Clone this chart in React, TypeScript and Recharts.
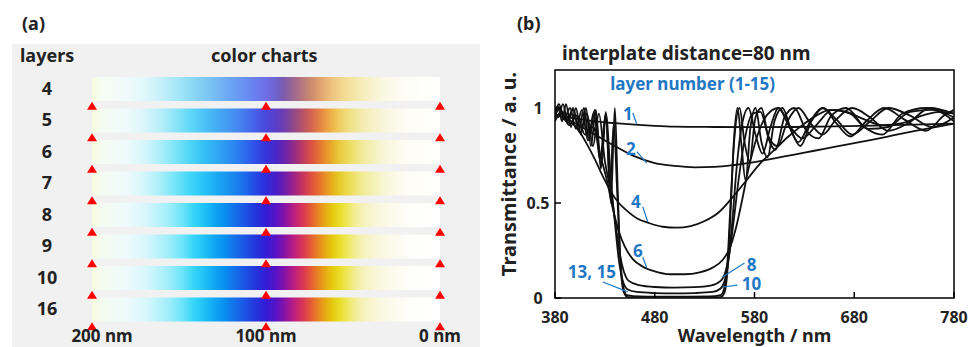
import React from 'react';
import {
  BarChart, Bar, Cell, XAxis, YAxis, ReferenceDot,
  LineChart, Line, ReferenceArea, ReferenceLine,
} from 'recharts';

// ---- panel (a): colour charts ----
const layers = ['4', '5', '6', '7', '8', '9', '10', '16'];
const stripSpan = 200; // nm, strips run 200 nm -> 0 nm
const thicknessTicks = [200, 100, 0];

// ---- panel (b): transmittance spectra, [wavelength nm, T] ----
const layer1: [number, number][] = [
  [380, 0.96], [400, 0.945], [420, 0.93], [440, 0.92], [460, 0.912], [480, 0.906], [500, 0.902],
  [540, 0.9], [580, 0.899], [620, 0.9], [660, 0.903], [700, 0.907], [740, 0.912], [780, 0.918],
];
const layer2: [number, number][] = [
  [380, 0.97], [400, 0.92], [420, 0.86], [440, 0.8], [460, 0.745], [480, 0.71], [500, 0.695],
  [520, 0.688], [540, 0.69], [560, 0.7], [580, 0.715], [600, 0.735], [620, 0.755], [640, 0.775],
  [660, 0.795], [680, 0.815], [700, 0.835], [720, 0.857], [740, 0.878], [760, 0.898], [780, 0.918],
];
const layer4: [number, number][] = [
  [380, 0.95], [388, 0.97], [396, 0.93], [404, 0.88], [412, 0.81], [420, 0.73], [428, 0.64],
  [436, 0.56], [444, 0.5], [452, 0.46], [462, 0.42], [474, 0.395], [488, 0.375], [502, 0.37],
  [516, 0.378], [530, 0.405], [544, 0.45], [558, 0.53], [572, 0.62], [586, 0.71], [600, 0.78],
  [614, 0.85], [628, 0.91], [642, 0.96], [656, 0.99], [672, 0.98], [690, 0.94], [708, 0.91],
  [728, 0.92], [748, 0.96], [766, 0.98], [780, 0.97],
];
const layer6: [number, number][] = [
  [380, 0.93], [386, 0.98], [394, 0.91], [402, 0.96], [410, 0.86], [418, 0.9], [426, 0.74],
  [432, 0.62], [438, 0.47], [444, 0.35], [450, 0.27], [458, 0.205], [468, 0.165], [480, 0.14],
  [495, 0.125], [510, 0.125], [525, 0.135], [538, 0.16], [548, 0.2], [555, 0.26], [561, 0.36],
  [567, 0.5], [574, 0.68], [582, 0.84], [592, 0.96], [604, 1.0], [616, 0.9], [628, 0.84],
  [642, 0.91], [658, 0.99], [676, 0.97], [694, 0.89], [714, 0.9], [736, 0.98], [758, 0.99], [780, 0.93],
];
const layer8: [number, number][] = [
  [380, 0.96], [385, 1.0], [391, 0.93], [398, 0.99], [405, 0.87], [412, 0.97], [418, 0.8],
  [424, 0.97], [430, 0.72], [436, 0.56], [441, 0.38], [445, 0.23], [449, 0.14], [454, 0.09],
  [464, 0.068], [480, 0.058], [500, 0.055], [520, 0.057], [536, 0.065], [546, 0.09], [551, 0.14],
  [555, 0.24], [559, 0.4], [564, 0.62], [570, 0.83], [578, 0.97], [586, 0.98], [594, 0.85],
  [603, 0.8], [613, 0.93], [624, 1.0], [636, 0.92], [648, 0.86], [662, 0.94], [678, 1.0],
  [696, 0.95], [714, 0.88], [734, 0.92], [756, 1.0], [780, 0.97],
];
const layer10: [number, number][] = [
  [380, 0.98], [384, 1.02], [389, 0.94], [395, 1.0], [401, 0.89], [407, 0.99], [413, 0.83],
  [419, 0.98], [425, 0.73], [431, 0.97], [436, 0.62], [440, 0.4], [444, 0.2], [448, 0.09],
  [453, 0.045], [462, 0.032], [480, 0.026], [500, 0.024], [520, 0.026], [538, 0.032], [546, 0.05],
  [550, 0.09], [554, 0.2], [558, 0.42], [562, 0.68], [567, 0.9], [574, 1.0], [581, 0.86],
  [588, 0.76], [596, 0.9], [604, 1.0], [614, 0.91], [624, 0.82], [636, 0.93], [648, 1.0],
  [662, 0.94], [678, 0.86], [696, 0.93], [714, 1.0], [736, 0.96], [758, 0.9], [780, 0.95],
];
const layer13: [number, number][] = [
  [380, 1.0], [383, 0.95], [388, 1.02], [393, 0.92], [398, 1.0], [404, 0.88], [409, 1.0],
  [414, 0.83], [420, 0.99], [426, 0.7], [431, 0.98], [435, 0.58], [439, 0.92], [442, 0.6],
  [445, 0.25], [448, 0.07], [452, 0.015], [465, 0.008], [500, 0.007], [535, 0.008], [546, 0.015],
  [550, 0.06], [553, 0.2], [556, 0.5], [560, 0.85], [565, 1.0], [570, 0.82], [575, 0.72],
  [581, 0.95], [587, 1.0], [594, 0.84], [601, 0.78], [610, 0.95], [620, 1.0], [632, 0.88],
  [644, 0.84], [657, 0.96], [672, 1.0], [690, 0.9], [708, 0.86], [728, 0.97], [752, 1.0], [780, 0.95],
];
const layer15: [number, number][] = [
  [380, 0.95], [383, 1.01], [387, 0.93], [391, 1.02], [396, 0.9], [401, 1.0], [406, 0.86],
  [411, 1.0], [416, 0.8], [421, 0.99], [426, 0.68], [431, 0.96], [436, 0.5], [440, 1.0],
  [443, 0.55], [446, 0.15], [449, 0.03], [453, 0.005], [470, 0.002], [500, 0.002], [530, 0.002],
  [546, 0.005], [550, 0.03], [553, 0.15], [556, 0.45], [559, 0.8], [563, 1.0], [567, 0.8],
  [571, 0.62], [576, 0.9], [581, 1.0], [587, 0.82], [593, 0.74], [600, 0.93], [608, 1.0],
  [617, 0.88], [626, 0.8], [637, 0.93], [649, 1.0], [662, 0.92], [676, 0.85], [692, 0.93],
  [710, 1.0], [730, 0.94], [752, 0.88], [770, 0.96], [780, 0.99],
];
const spectra = [layer1, layer2, layer4, layer6, layer8, layer10, layer13, layer15];
const wavelengthTicks = [380, 480, 580, 680, 780];
const transTicks = [0, 0.5, 1];

// curve labels: text anchor point + leader line, in data units
const curveLabels = [
  { text: '1', x: 453, y: 0.937, from: [458, 0.974], to: [462, 0.916] },
  { text: '2', x: 456, y: 0.753, from: [462, 0.77], to: [472, 0.71] },
  { text: '4', x: 461, y: 0.474, from: [468, 0.48], to: [473, 0.4] },
  { text: '6', x: 463, y: 0.216, from: [468, 0.216], to: [472, 0.158] },
  { text: '13, 15', x: 417, y: 0.105, from: [428, 0.084], to: [453, 0.032] },
  { text: '8', x: 577, y: 0.14, from: [570, 0.184], to: [548, 0.11] },
  { text: '10', x: 577, y: 0.04, from: [563, 0.068], to: [548, 0.058] },
];

// strip gradients (style): [offset %, colour]
const P4: [number, string][] = [
  [0, '#f8fce0'], [3, '#f6fcf2'], [10, '#f0fafc'], [15, '#e0f8fc'], [20, '#c4f0fa'], [24, '#a8e8f8'],
  [28, '#90dcf6'], [32, '#80ccf4'], [36, '#74b8f4'], [40, '#6aa4f4'], [44, '#6890f2'], [47, '#6a7ef0'],
  [50, '#6e6ee6'], [53, '#7062cc'], [55, '#7c5cae'], [57, '#926498'], [59, '#a86c88'], [61, '#bc7c7a'],
  [63, '#cc8c70'], [65, '#dc9e6e'], [67, '#e6b074'], [69, '#eec280'], [71, '#f2d28a'], [74, '#f4e29c'],
  [78, '#f6eebc'], [84, '#faf8e4'], [90, '#fdfdf6'], [100, '#ffffff'],
];
const P5: [number, string][] = [
  [0, '#f8fce0'], [3, '#f4fcf2'], [10, '#eefafc'], [15, '#daf6fc'], [20, '#b4eefa'], [24, '#8ce4f8'],
  [28, '#62d8f8'], [32, '#4cc4f6'], [36, '#44acf4'], [40, '#4494f2'], [44, '#4478ee'], [47, '#465ee8'],
  [50, '#4a48dc'], [53, '#5a3ec8'], [55, '#6c3eb0'], [57, '#844496'], [59, '#a04c7c'], [61, '#bc5664'],
  [63, '#d46452'], [65, '#e27c46'], [67, '#ea9842'], [69, '#eeb44a'], [71, '#f0cc60'], [74, '#f0e084'],
  [78, '#f4ecb2'], [84, '#f9f6dc'], [90, '#fdfcf4'], [100, '#ffffff'],
];
const P6: [number, string][] = [
  [0, '#f8fce0'], [3, '#f4fcf2'], [10, '#eefafc'], [15, '#d6f6fc'], [20, '#a8eefa'], [24, '#7ce4f8'],
  [28, '#50d6f8'], [32, '#36c2f6'], [36, '#30a8f4'], [40, '#2c8cf2'], [44, '#2c6cee'], [47, '#304ee6'],
  [50, '#3634dc'], [53, '#4a26c8'], [55, '#6424b0'], [57, '#822896'], [59, '#a4307a'], [61, '#c43e5c'],
  [63, '#da5244'], [65, '#e46e36'], [67, '#e88e2c'], [69, '#e8ae2c'], [71, '#e8c83c'], [74, '#ecdc60'],
  [78, '#f2eca0'], [84, '#f8f6d8'], [90, '#fdfcf4'], [100, '#ffffff'],
];
const P7: [number, string][] = [
  [0, '#f8fce0'], [3, '#f4fcf2'], [10, '#eefafc'], [15, '#d4f6fc'], [20, '#a4eefa'], [24, '#72e4f8'],
  [28, '#44d6f8'], [32, '#28c4f8'], [36, '#1ca8f4'], [40, '#1a8cf0'], [44, '#1c6aec'], [47, '#2448e4'],
  [50, '#2e2cdc'], [53, '#4a1cc8'], [55, '#6a1cb0'], [57, '#8c2096'], [59, '#ae2878'], [61, '#cc3858'],
  [63, '#de5040'], [65, '#e66c30'], [67, '#e88e24'], [69, '#e6ae1c'], [71, '#e6ca28'], [74, '#ecdc54'],
  [78, '#f2ec98'], [84, '#f8f6d6'], [90, '#fdfcf4'], [100, '#ffffff'],
];
const P16: [number, string][] = [
  [0, '#f8fce0'], [3, '#f4fbf0'], [10, '#eefafc'], [16, '#d4f6fc'], [22, '#a0eefa'], [26, '#6ce4fa'],
  [29, '#38d6f8'], [32, '#20c4f8'], [35, '#10a8f4'], [38, '#0890f0'], [41, '#1470ea'], [44, '#1c54e4'],
  [47, '#2436dc'], [50, '#321cd6'], [53, '#5a12c4'], [55, '#8012aa'], [57, '#a81890'], [59, '#c82670'],
  [61, '#dc3c50'], [63, '#e45e34'], [65, '#e88420'], [67, '#e8a814'], [69, '#e6c810'], [71, '#e8dc24'],
  [73, '#eee650'], [75, '#f2ec88'], [78, '#f6f2bc'], [82, '#f9f7dc'], [87, '#fcfbf0'], [92, '#fefefc'],
  [100, '#ffffff'],
];
const rowPalettes = [P4, P5, P6, P7, P16, P16, P16, P16];

const FONT = '"Noto Sans", "DejaVu Sans", sans-serif';
const BLUE = '#1f78c4';

const stripData = layers.map((layer) => ({ layer, span: stripSpan }));
const toPts = (arr: [number, number][]) => arr.map(([w, t]) => ({ w, t }));

const RowTick = (props: any) => {
  const { x, y, payload } = props;
  return (
    <text x={x - 45} y={y + 6} textAnchor="middle" fontFamily={FONT} fontWeight={700} fontSize={18} fill="#222">
      {payload.value}
    </text>
  );
};

const NmTick = (props: any) => {
  const { x, y, payload, index } = props;
  return (
    <text x={x + (index === 0 ? 10 : 0)} y={y + 17} textAnchor="middle" fontFamily={FONT} fontWeight={700} fontSize={17} fill="#222">
      {`${payload.value} nm`}
    </text>
  );
};

const Triangle = (props: any) => {
  const { cx, cy } = props;
  return <path d={`M${cx - 5},${cy + 21} L${cx + 5},${cy + 21} L${cx},${cy + 13} Z`} fill="#f00" />;
};

const WlTick = (props: any) => {
  const { x, y, payload } = props;
  return (
    <g>
      <line x1={x} x2={x} y1={y} y2={y - 6} stroke="#000" strokeWidth={1.5} />
      <text x={x} y={y + 25} textAnchor="middle" fontFamily={FONT} fontWeight={700} fontSize={16} fill="#222">
        {payload.value}
      </text>
    </g>
  );
};

const TTick = (props: any) => {
  const { x, y, payload } = props;
  return (
    <g>
      <line x1={x} x2={x + 6} y1={y} y2={y} stroke="#000" strokeWidth={1.5} />
      <text x={x - 17} y={y + 6} textAnchor="middle" fontFamily={FONT} fontWeight={700} fontSize={16} fill="#222">
        {payload.value}
      </text>
    </g>
  );
};

const label = (text: string, x: number, y: number, size = 18, color = '#222') => (
  <div style={{ position: 'absolute', left: x, top: y, fontFamily: FONT, fontWeight: 700, fontSize: size, color, whiteSpace: 'nowrap', lineHeight: 1 }}>
    {text}
  </div>
);

export default function App() {
  return (
    <div style={{ position: 'relative', width: 972, height: 347, background: '#fff', overflow: 'hidden' }}>
      <style>{'body{margin:0}'}</style>

      {label('(a)', 22, 14)}
      {label('(b)', 517, 14)}

      {/* panel (a) */}
      <div style={{ position: 'absolute', left: 12, top: 44, width: 468, height: 303, background: '#f1f1f1' }} />
      {label('layers', 20, 46)}
      {label('color charts', 211, 46)}
      <div style={{ position: 'absolute', left: 0, top: 0 }}>
        <BarChart width={480} height={347} layout="vertical" data={stripData}
          margin={{ top: 73, right: 40, bottom: 0, left: 12 }} barCategoryGap={0}>
          <defs>
            {rowPalettes.map((pal, i) => (
              <linearGradient key={i} id={`strip${i}`} x1="0" y1="0" x2="1" y2="0">
                {pal.map(([o, c]) => <stop key={o} offset={`${o}%`} stopColor={c} />)}
              </linearGradient>
            ))}
          </defs>
          <XAxis type="number" domain={[0, stripSpan]} reversed ticks={thicknessTicks} height={22}
            axisLine={false} tickLine={false} tickSize={0} tickMargin={0} tick={<NmTick />} interval={0} />
          <YAxis type="category" dataKey="layer" width={80} axisLine={false} tickLine={false}
            tickSize={0} tickMargin={0} tick={<RowTick />} interval={0} />
          <Bar dataKey="span" barSize={24} isAnimationActive={false}>
            {stripData.map((_, i) => <Cell key={i} fill={`url(#strip${i})`} />)}
          </Bar>
          {layers.flatMap((layer) => thicknessTicks.map((t) => (
            <ReferenceDot key={`${layer}-${t}`} x={t} y={layer} shape={<Triangle />} ifOverflow="visible" />
          )))}
        </BarChart>
      </div>

      {/* panel (b) */}
      {label('interplate distance=80 nm', 562, 44, 19)}
      <div style={{ position: 'absolute', left: 488, top: 40 }}>
        <LineChart width={484} height={307} margin={{ top: 30, right: 18, bottom: 19, left: 22 }}>
          <XAxis type="number" dataKey="w" domain={[380, 780]} ticks={wavelengthTicks} height={30}
            axisLine={false} tickLine={false} tickSize={0} tickMargin={0} tick={<WlTick />} interval={0}
            allowDataOverflow
            label={{
              content: (p: any) => (
                <text x={p.viewBox.x + p.viewBox.width / 2} y={p.viewBox.y + 44} textAnchor="middle"
                  fontFamily={FONT} fontWeight={700} fontSize={18} fill="#222">Wavelength / nm</text>
              ),
            }} />
          <YAxis type="number" domain={[0, 1.2]} ticks={transTicks} width={45}
            axisLine={false} tickLine={false} tickSize={0} tickMargin={0} tick={<TTick />} interval={0}
            allowDataOverflow
            label={{
              content: (p: any) => {
                const cx = p.viewBox.x - 2;
                const cy = p.viewBox.y + p.viewBox.height / 2 - 10;
                return (
                  <text x={cx} y={cy} transform={`rotate(-90 ${cx} ${cy})`} textAnchor="middle" dominantBaseline="central"
                    fontFamily={FONT} fontWeight={700} fontSize={20} fill="#222">Transmittance / a. u.</text>
                );
              },
            }} />
          <ReferenceArea x1={380} x2={780} y1={0} y2={1.2} fill="none" stroke="#000" strokeWidth={1.5} />
          {spectra.map((s, i) => (
            <Line key={i} data={toPts(s)} dataKey="t" type="monotone" stroke="#111" strokeWidth={1.8}
              dot={false} isAnimationActive={false} />
          ))}
          {curveLabels.map((c) => (
            <ReferenceLine key={`l${c.text}`} segment={[{ x: c.from[0], y: c.from[1] }, { x: c.to[0], y: c.to[1] }]}
              stroke={BLUE} strokeWidth={1.2} />
          ))}
          {curveLabels.map((c) => (
            <ReferenceDot key={`t${c.text}`} x={c.x} y={c.y} shape={(p: any) => (
              <text x={p.cx} y={p.cy} textAnchor="middle" fontFamily={FONT} fontWeight={700} fontSize={17} fill={BLUE}>{c.text}</text>
            )} />
          ))}
          <ReferenceDot x={518} y={1.095} shape={(p: any) => (
            <text x={p.cx} y={p.cy} textAnchor="middle" fontFamily={FONT} fontWeight={700} fontSize={17} fill={BLUE}>layer number (1-15)</text>
          )} />
        </LineChart>
      </div>
    </div>
  );
}
